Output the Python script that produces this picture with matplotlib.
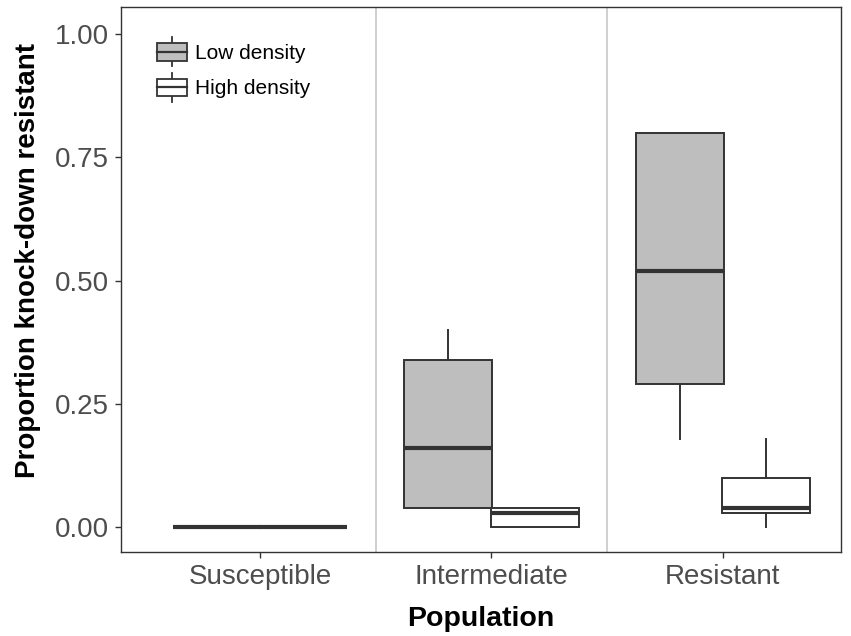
import matplotlib
matplotlib.use("Agg")
import matplotlib.pyplot as plt
from matplotlib.patches import Rectangle
from matplotlib.lines import Line2D
from matplotlib.legend_handler import HandlerBase

plt.rcParams['font.family'] = ['Liberation Sans', 'DejaVu Sans']

categories = ["Susceptible", "Intermediate", "Resistant"]
groups = ["Low density", "High density"]
# per category: (whislo, q1, med, q3, whishi)
low_stats = [(0.0, 0.0, 0.0, 0.0, 0.0),
             (0.04, 0.04, 0.16, 0.34, 0.40),
             (0.18, 0.29, 0.52, 0.80, 0.80)]
high_stats = [(0.0, 0.0, 0.0, 0.0, 0.0),
              (0.0, 0.0, 0.03, 0.04, 0.04),
              (0.0, 0.03, 0.04, 0.10, 0.18)]
fills = ["#BEBEBE", "#FFFFFF"]
yticks = [0.0, 0.25, 0.5, 0.75, 1.0]
ytick_labels = ["0.00", "0.25", "0.50", "0.75", "1.00"]

edge = "#333333"
fig = plt.figure(figsize=(8.51, 6.36), dpi=100)
ax = fig.add_axes([121/851, 1-552/636, (841-121)/851, (552-7)/636])

def mk(s):
    return dict(whislo=s[0], q1=s[1], med=s[2], q3=s[3], whishi=s[4], fliers=[])

dodge = 0.75
bw = 0.38
for gi, (stats, fc) in enumerate(zip([low_stats, high_stats], fills)):
    off = (-0.5 + gi) * dodge / 2
    for ci, s in enumerate(stats):
        pos = ci + 1 + off
        ax.bxp([mk(s)], positions=[pos], widths=bw, patch_artist=True,
               showcaps=False, showfliers=False,
               boxprops=dict(facecolor=fc, edgecolor=edge, linewidth=1.4),
               medianprops=dict(color=edge, linewidth=3),
               whiskerprops=dict(color=edge, linewidth=1.4))

for xv in [1.5, 2.5]:
    ax.axvline(xv, color="#C8C8C8", linewidth=1.2, zorder=0)

ax.set_xlim(0.4, 3.51)
ax.set_ylim(-0.05, 1.055)
ax.set_xticks([1, 2, 3])
ax.set_xticklabels(categories)
ax.set_yticks(yticks)
ax.set_yticklabels(ytick_labels)
ax.tick_params(axis='both', colors="#333333", labelcolor="#4D4D4D",
               labelsize=20, length=4, width=1)
ax.tick_params(axis='x', pad=5)
ax.tick_params(axis='y', pad=5)
for sp in ax.spines.values():
    sp.set_color("#333333")
    sp.set_linewidth(1)
ax.set_xlabel("Population", fontsize=20.5, fontweight='bold', labelpad=11)
ax.set_ylabel("Proportion knock-down resistant", fontsize=20, fontweight='bold')
ax.yaxis.set_label_coords(-0.111, (552 - 261) / 545)


class BoxHandler(HandlerBase):
    def __init__(self, fc):
        super().__init__()
        self.fc = fc

    def create_artists(self, legend, orig_handle, xdescent, ydescent,
                       width, height, fontsize, trans):
        cx = width / 2 - xdescent
        bh = height * 0.95
        y0 = (height - bh) / 2 - ydescent
        r = Rectangle((-xdescent, y0), width, bh, facecolor=self.fc,
                      edgecolor=edge, linewidth=1.3, transform=trans)
        m = Line2D([-xdescent, width - xdescent], [y0 + bh / 2] * 2,
                   color=edge, linewidth=1.6, transform=trans)
        w1 = Line2D([cx, cx], [y0 + bh, y0 + bh + height * 0.3],
                    color=edge, linewidth=1.3, transform=trans)
        w2 = Line2D([cx, cx], [y0, y0 - height * 0.3],
                    color=edge, linewidth=1.3, transform=trans)
        return [w1, w2, r, m]

h1 = Rectangle((0, 0), 1, 1)
h2 = Rectangle((0, 1), 1, 1)
leg = ax.legend([h1, h2], groups, loc='upper left',
                bbox_to_anchor=(0.039, 0.950), frameon=False, fontsize=15,
                handler_map={h1: BoxHandler(fills[0]), h2: BoxHandler(fills[1])},
                handlelength=1.4, handleheight=1.0, handletextpad=0.4,
                labelspacing=0.72, borderpad=0.4, borderaxespad=0)

fig.savefig("out.png", dpi=100)
